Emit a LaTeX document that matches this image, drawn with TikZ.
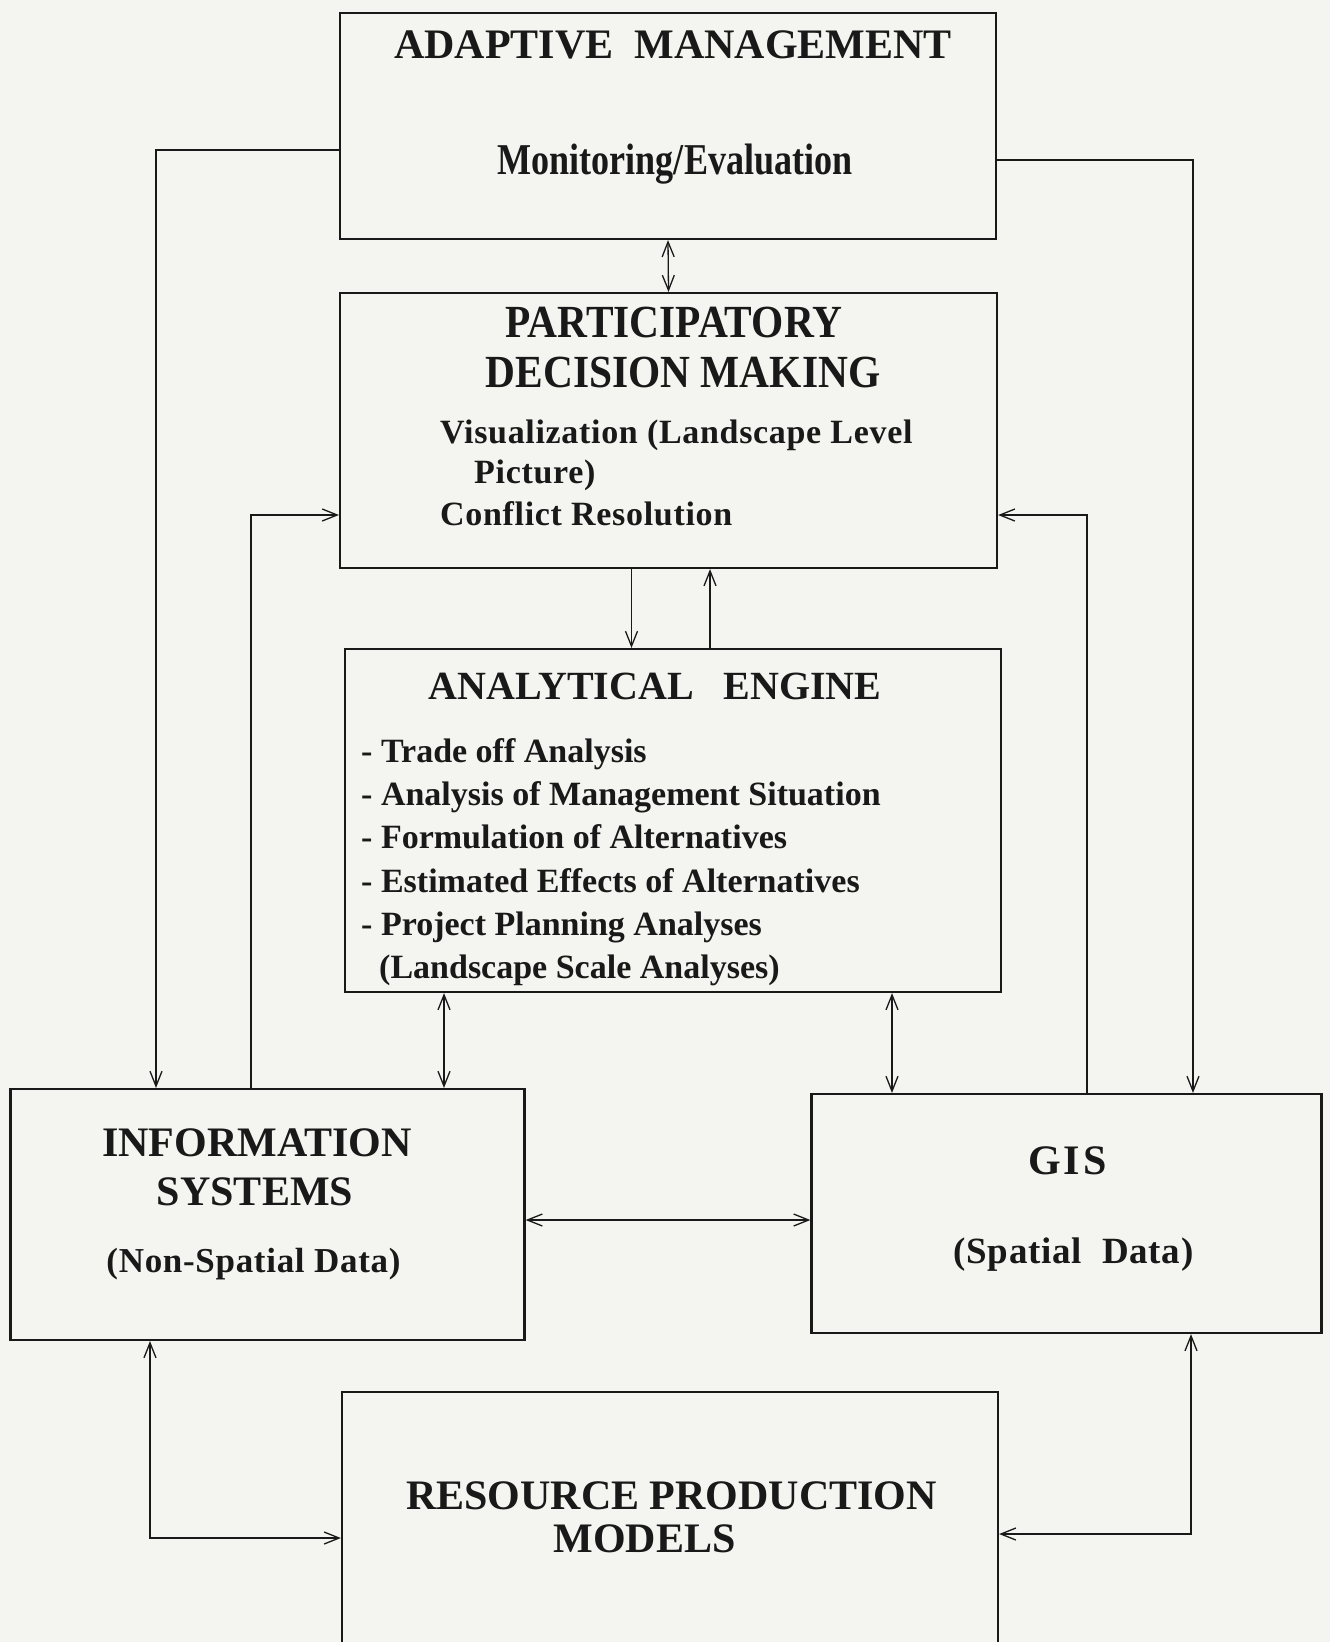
\documentclass[tikz,border=0pt]{standalone}
\usepackage{fontspec}
\setmainfont{Liberation Serif}
\newfontfamily\condfont{Liberation Serif}[FakeStretch=0.82]
\newfontfamily\narrowfont{Liberation Serif}[FakeStretch=0.9]
\newfontfamily\spacedfont{Liberation Serif}[LetterSpace=2]
\usetikzlibrary{arrows.meta,positioning}
\definecolor{paper}{RGB}{244,244,240}
\definecolor{ink}{RGB}{25,25,25}

\begin{document}
\begin{tikzpicture}[x=1pt, y=1pt, >={Straight Barb[length=15pt,width=12pt]},
  box/.style={draw=ink, line width=2.2pt, inner sep=0pt},
  link/.style={draw=ink, line width=1.3pt},
  ttl/.style={font=\fontsize{42}{48}\selectfont\bfseries, text=ink, inner sep=0pt, anchor=base},
  cond/.style={font=\fontsize{44}{50}\selectfont\condfont\bfseries, text=ink, inner sep=0pt, anchor=base},
  nar/.style={font=\fontsize{46}{52}\selectfont\narrowfont\bfseries, text=ink, inner sep=0pt, anchor=base},
  txt/.style={font=\fontsize{34}{40}\selectfont\spacedfont\bfseries, text=ink, inner sep=0pt, anchor=base west},
  lst/.style={font=\fontsize{34}{40}\selectfont\bfseries, text=ink, inner sep=0pt, anchor=base west}]
  \clip (0,0) rectangle (1330,-1642);
  \fill[paper] (0,0) rectangle (1330,-1642);

  % boxes
  \node[box, minimum width=656pt, minimum height=226pt] (am) at (668,-126) {};
  \node[box, minimum width=657pt, minimum height=275pt] (pdm) at (668.5,-430.5) {};
  \node[box, minimum width=656pt, minimum height=343pt] (ae) at (673,-820.5) {};
  \node[box, minimum width=514pt, minimum height=251pt] (is) at (267.5,-1214.5) {};
  \node[box, minimum width=510pt, minimum height=239pt] (gis) at (1066.5,-1213.5) {};
  \node[box, minimum width=656pt, minimum height=308pt] (rpm) at (670,-1546) {};

  % texts
  \node[ttl] (amt) at (673,-58) {ADAPTIVE\ \ MANAGEMENT};
  \node[cond] (ams) at (675,-174) {Monitoring/Evaluation};
  \node[nar] (pdt1) at (674,-337) {PARTICIPATORY};
  \node[nar] (pdt2) at (683,-387) {DECISION MAKING};
  \node[txt] (pd1) at (440,-443) {Visualization (Landscape Level};
  \node[txt] (pd2) at (474,-483) {Picture)};
  \node[txt] (pd3) at (440,-525) {Conflict Resolution};
  \node[ttl, font=\fontsize{40}{46}\selectfont\bfseries] (aet) at (655,-699) {ANALYTICAL\hspace{0.75em}ENGINE};
  \node[lst] (ae1) at (361,-762) {- Trade off Analysis};
  \node[lst] (ae2) at (361,-805) {- Analysis of Management Situation};
  \node[lst] (ae3) at (361,-848) {- Formulation of Alternatives};
  \node[lst] (ae4) at (361,-892) {- Estimated Effects of Alternatives};
  \node[lst] (ae5) at (361,-935) {- Project Planning Analyses};
  \node[lst] (ae6) at (379,-978) {(Landscape Scale Analyses)};
  \node[ttl] (ist1) at (257,-1156) {INFORMATION};
  \node[ttl] (ist2) at (255,-1205) {SYSTEMS};
  \node[txt, anchor=base, font=\fontsize{35}{40}\selectfont\spacedfont\bfseries] (iss) at (253.5,-1272) {(Non-Spatial Data)};
  \node[ttl] (gist) at (1067.5,-1174) {G\kern3ptI\kern3ptS};
  \node[txt, anchor=base, font=\fontsize{37}{42}\selectfont\spacedfont\bfseries] (giss) at (1073.5,-1263) {(Spatial\ \ Data)};
  \node[ttl] (rpmt1) at (671.5,-1509) {RESOURCE PRODUCTION};
  \node[ttl] (rpmt2) at (644.5,-1552) {MODELS};

  % routing points
  \coordinate (lx) at (156,-150);
  \coordinate (rx) at (1193,-160);
  \coordinate (ilx) at (251,-515);
  \coordinate (grx) at (1087,-515);
  \coordinate (pax) at (631.5,0);
  \coordinate (apx) at (710,0);
  \coordinate (aix) at (444,0);
  \coordinate (agx) at (892,0);
  \coordinate (mid) at (0,-1220);
  \coordinate (isr) at (150,-1538);
  \coordinate (gsr) at (1191,-1534);

  % connectors
  \draw[link, ->] (am.west |- lx) -| (lx |- is.north);
  \draw[link, ->] (am.east |- rx) -| (rx |- gis.north);
  \draw[link, <->] (am.south) -- (pdm.north);
  \draw[link, ->] (ilx |- is.north) |- (pdm.west |- ilx);
  \draw[link, ->] (grx |- gis.north) |- (pdm.east |- grx);
  \draw[link, ->] (pax |- pdm.south) -- (pax |- ae.north);
  \draw[link, ->] (apx |- ae.north) -- (apx |- pdm.south);
  \draw[link, <->] (aix |- ae.south) -- (aix |- is.north);
  \draw[link, <->] (agx |- ae.south) -- (agx |- gis.north);
  \draw[link, <->] (is.east |- mid) -- (gis.west |- mid);
  \draw[link, <->] (isr |- is.south) |- (rpm.west |- isr);
  \draw[link, <->] (gsr |- gis.south) |- (rpm.east |- gsr);
\end{tikzpicture}
\end{document}
